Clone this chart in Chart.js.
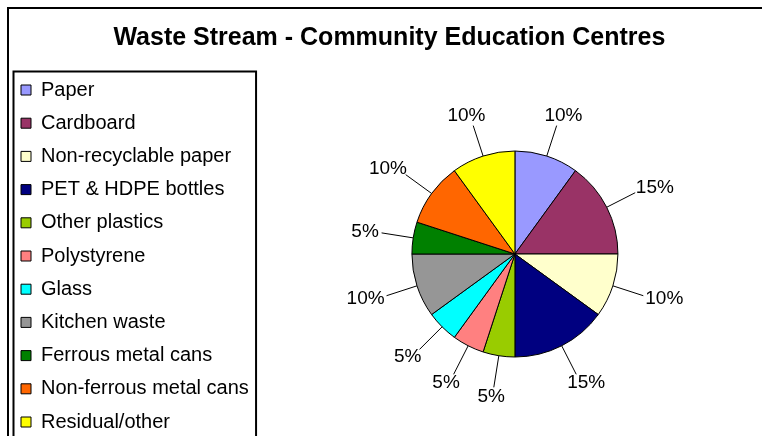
<!DOCTYPE html>
<html>
<head>
<meta charset="utf-8">
<script src="https://cdn.jsdelivr.net/npm/chart.js@4.4.1/dist/chart.umd.min.js"></script>
<style>
  html, body { margin: 0; padding: 0; overflow: hidden; background: #fff; }
</style>
</head>
<body>
<canvas id="pie" width="776" height="450"></canvas>
<script>
// data
const categories = [
    'Paper', 'Cardboard', 'Non-recyclable paper', 'PET & HDPE bottles',
    'Other plastics', 'Polystyrene', 'Glass', 'Kitchen waste',
    'Ferrous metal cans', 'Non-ferrous metal cans', 'Residual/other'
];
const shares = [10, 15, 10, 15, 5, 5, 5, 10, 5, 10, 10];
const sliceColours = [
    '#9999FF', '#993366', '#FFFFCC', '#000080', '#99CC00', '#FF8080',
    '#00FFFF', '#969696', '#008000', '#FF6600', '#FFFF00'
];

const FONT = '"Liberation Sans", Arial, sans-serif';

// white background + outer chart frame
const frame = {
    id: 'frame',
    beforeDraw(chart) {
        const ctx = chart.ctx;
        ctx.save();
        ctx.fillStyle = '#fff';
        ctx.fillRect(0, 0, chart.width, chart.height);
        ctx.strokeStyle = '#000';
        ctx.lineWidth = 2;
        ctx.strokeRect(8, 8, chart.width + 40, chart.height + 40);
        ctx.restore();
    }
};

// border round the legend
const legendBorder = {
    id: 'legendBorder',
    afterDraw(chart) {
        const lg = chart.legend;
        const ctx = chart.ctx;
        ctx.save();
        ctx.strokeStyle = '#000';
        ctx.lineWidth = 2;
        ctx.strokeRect(lg.left + 5.7, lg.top + 8.7, lg.width - 8.5, chart.height);
        ctx.restore();
    }
};

// percentage labels outside the pie with leader lines
const outsideLabels = {
    id: 'outsideLabels',
    afterDatasetsDraw(chart) {
        const ctx = chart.ctx;
        const meta = chart.getDatasetMeta(0);
        const total = shares.reduce((a, b) => a + b, 0);
        ctx.save();
        ctx.font = '19px ' + FONT;
        ctx.fillStyle = '#000';
        ctx.strokeStyle = '#000';
        ctx.lineWidth = 1;
        ctx.textAlign = 'center';
        ctx.textBaseline = 'middle';
        meta.data.forEach((arc, i) => {
            const p = arc.getProps(['x', 'y', 'startAngle', 'endAngle', 'outerRadius'], true);
            const mid = (p.startAngle + p.endAngle) / 2;
            const c = Math.cos(mid), s = Math.sin(mid);
            const r1 = p.outerRadius, r2 = p.outerRadius + 32;
            const ex = p.x + c * r2, ey = p.y + s * r2;
            ctx.beginPath();
            ctx.moveTo(p.x + c * r1, p.y + s * r1);
            ctx.lineTo(ex, ey);
            ctx.stroke();
            const txt = Math.round(shares[i] / total * 100) + '%';
            const w = ctx.measureText(txt).width;
            const h = 14;
            ctx.fillText(txt, ex + c * (w / 2 + 3), ey + s * (h / 2 + 3));
        });
        ctx.restore();
    }
};

new Chart(document.getElementById('pie'), {
    type: 'pie',
    data: {
        labels: categories,
        datasets: [{
            data: shares,
            backgroundColor: sliceColours,
            borderColor: '#000',
            borderWidth: 1,
            radius: 103
        }]
    },
    options: {
        responsive: false,
        animation: false,
        layout: { padding: { left: 7.8, right: 5, top: 0, bottom: 4.8 } },
        plugins: {
            title: {
                display: true,
                text: 'Waste Stream - Community Education Centres',
                color: '#000',
                font: { family: FONT, size: 25, weight: 'bold' },
                padding: { top: 23.5, bottom: 9.3 }
            },
            legend: {
                position: 'left',
                align: 'end',
                fullSize: false,
                labels: {
                    color: '#000',
                    font: { family: FONT, size: 20 },
                    boxWidth: 10,
                    boxHeight: 10,
                    padding: 13.2
                }
            },
            tooltip: { enabled: false }
        }
    },
    plugins: [frame, legendBorder, outsideLabels]
});
</script>
</body>
</html>
